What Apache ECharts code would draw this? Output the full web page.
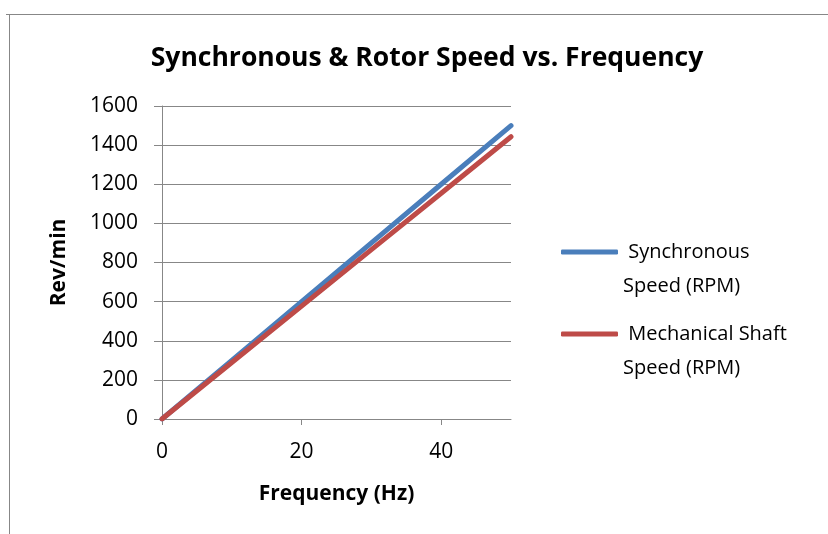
<!DOCTYPE html>
<html>
<head>
<meta charset="utf-8">
<style>
  html, body { margin: 0; padding: 0; background: #fff; }
  #chart { width: 828px; height: 534px; }
</style>
<script src="https://cdn.jsdelivr.net/npm/echarts@6/dist/echarts.min.js"></script>
</head>
<body>
<div id="chart"></div>
<script>
// values
const frequency = [0, 10, 20, 30, 40, 50]
const syncSpeed = [0, 300, 600, 900, 1200, 1500]
const shaftSpeed = [0, 289, 577, 866, 1154, 1443]
const seriesNames = [' Synchronous Speed (RPM)', ' Mechanical Shaft Speed (RPM)']

const font = '"Open Sans", Lato, sans-serif'
const gray = '#878787'

const pairs = (ys) => frequency.map((f, i) => [f, ys[i]])

// Excel wraps the long legend names onto two lines; the blank first line
// keeps the legend line level with the first line of text
const wrapName = (name) => {
  const words = name.split(' ')
  const cut = words.length - 2
  return '\n' + words.slice(0, cut).join(' ') + '\n' + words.slice(cut).join(' ')
}

const myChart = echarts.init(document.getElementById('chart'))

const legendItem = (name, top) => ({
  data: [name],
  orient: 'vertical',
  left: 556,
  top: top,
  icon: 'roundRect',
  itemWidth: 57,
  itemHeight: 5,
  formatter: wrapName,
  textStyle: {
    fontFamily: font,
    fontSize: 20,
    color: '#000',
    lineHeight: 34
  }
})

myChart.setOption({
  animation: false,
  title: {
    text: 'Synchronous & Rotor Speed vs. Frequency',
    left: 422,
    top: 40,
    textAlign: 'center',
    textStyle: { fontFamily: font, fontSize: 26.5, fontWeight: 'bold', color: '#000' }
  },
  graphic: [
    { type: 'line', shape: { x1: 6, y1: 14.5, x2: 828, y2: 14.5 }, style: { stroke: gray, lineWidth: 1 } },
    { type: 'line', shape: { x1: 9.5, y1: 14, x2: 9.5, y2: 534 }, style: { stroke: gray, lineWidth: 1 } }
  ],
  legend: [
    legendItem(seriesNames[0], 196),
    legendItem(seriesNames[1], 278)
  ],
  grid: { left: 162, right: 317, top: 106, bottom: 115 },
  xAxis: {
    type: 'value',
    min: 0,
    max: 50,
    interval: 20,
    name: 'Frequency (Hz)',
    nameLocation: 'middle',
    nameGap: 65,
    nameTextStyle: { fontFamily: font, fontSize: 21, fontWeight: 'bold', color: '#000' },
    axisLine: { lineStyle: { color: gray, width: 1 } },
    axisTick: { show: true, inside: false, length: 6, lineStyle: { color: gray } },
    axisLabel: { fontFamily: font, fontSize: 21, color: '#000', margin: 23, showMaxLabel: false },
    splitLine: { show: false }
  },
  yAxis: {
    type: 'value',
    min: 0,
    max: 1600,
    interval: 200,
    name: 'Rev/min',
    nameLocation: 'middle',
    nameRotate: 90,
    nameGap: 92,
    nameTextStyle: { fontFamily: font, fontSize: 21, fontWeight: 'bold', color: '#000' },
    axisLine: { show: true, lineStyle: { color: gray, width: 1 } },
    axisTick: { show: true, inside: false, length: 8, lineStyle: { color: gray } },
    axisLabel: { fontFamily: font, fontSize: 21, color: '#000', margin: 24, formatter: (v) => String(v) },
    splitLine: { show: true, lineStyle: { color: gray, width: 1 } }
  },
  series: [
    {
      name: seriesNames[0],
      type: 'line',
      data: pairs(syncSpeed),
      showSymbol: false,
      lineStyle: { color: '#4a7ebb', width: 5, cap: 'round' },
      itemStyle: { color: '#4a7ebb' }
    },
    {
      name: seriesNames[1],
      type: 'line',
      data: pairs(shaftSpeed),
      showSymbol: false,
      lineStyle: { color: '#be4b48', width: 5, cap: 'round' },
      itemStyle: { color: '#be4b48' }
    }
  ]
})
</script>
</body>
</html>
